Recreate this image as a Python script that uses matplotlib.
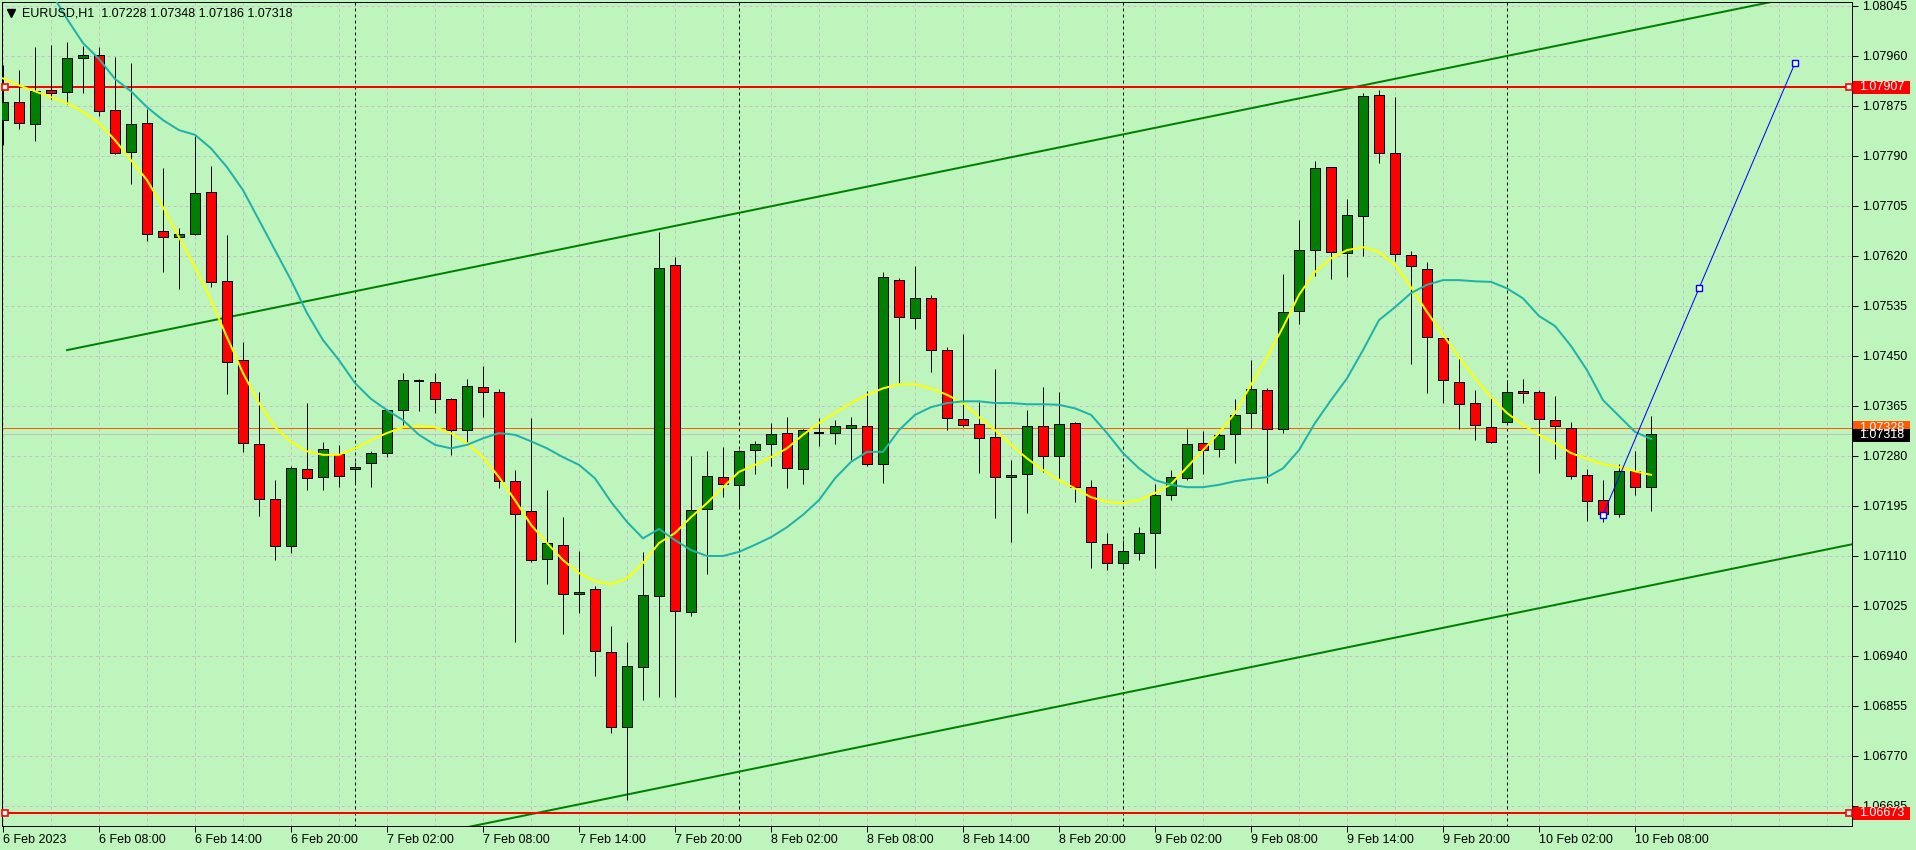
import matplotlib
matplotlib.use("Agg")
import matplotlib.pyplot as plt
from matplotlib.patches import Rectangle
from matplotlib.transforms import blended_transform_factory

# EURUSD H1 candles, bar 0 = 6 Feb 02:00
opens = [1.07851, 1.07882, 1.07844, 1.07902, 1.07899, 1.07956, 1.07962, 1.07868, 1.07797, 1.07846,
         1.07662, 1.07652, 1.07657, 1.07729, 1.07577, 1.07443, 1.07300, 1.07207, 1.07127, 1.07258,
         1.07244, 1.07283, 1.07258, 1.07268, 1.07285, 1.07358, 1.07407, 1.07406, 1.07377, 1.07324,
         1.07397, 1.07389, 1.07237, 1.07186, 1.07105, 1.07129, 1.07045, 1.07054, 1.06947, 1.06819,
         1.06921, 1.07042, 1.07605, 1.07015, 1.07190, 1.07244, 1.07231, 1.07290, 1.07300, 1.07319,
         1.07258, 1.07319, 1.07319, 1.07327, 1.07331, 1.07266, 1.07579, 1.07514, 1.07548, 1.07460,
         1.07343, 1.07334, 1.07312, 1.07244, 1.07249, 1.07331, 1.07280, 1.07336, 1.07227, 1.07130,
         1.07098, 1.07115, 1.07149, 1.07214, 1.07242, 1.07302, 1.07292, 1.07317, 1.07353, 1.07392,
         1.07326, 1.07526, 1.07630, 1.07771, 1.07625, 1.07688, 1.07894, 1.07795, 1.07622, 1.07598,
         1.07480, 1.07406, 1.07370, 1.07329, 1.07338, 1.07390, 1.07389, 1.07341, 1.07327, 1.07248,
         1.07205, 1.07181, 1.07254, 1.07228]
highs = [1.07945, 1.07936, 1.07975, 1.07979, 1.07984, 1.07977, 1.07975, 1.07958, 1.07948, 1.07870,
         1.07769, 1.07667, 1.07824, 1.07773, 1.07656, 1.07474, 1.07389, 1.07239, 1.07263, 1.07370,
         1.07304, 1.07298, 1.07270, 1.07288, 1.07360, 1.07421, 1.07411, 1.07421, 1.07378, 1.07411,
         1.07433, 1.07394, 1.07256, 1.07344, 1.07222, 1.07176, 1.07118, 1.07059, 1.06991, 1.06964,
         1.07117, 1.07661, 1.07618, 1.07280, 1.07288, 1.07295, 1.07290, 1.07305, 1.07336, 1.07346,
         1.07326, 1.07344, 1.07341, 1.07346, 1.07390, 1.07593, 1.07582, 1.07603, 1.07554, 1.07465,
         1.07487, 1.07372, 1.07428, 1.07273, 1.07358, 1.07397, 1.07389, 1.07338, 1.07239, 1.07149,
         1.07137, 1.07159, 1.07232, 1.07256, 1.07326, 1.07322, 1.07321, 1.07377, 1.07443, 1.07395,
         1.07589, 1.07681, 1.07781, 1.07772, 1.07717, 1.07897, 1.07902, 1.07890, 1.07628, 1.07610,
         1.07481, 1.07450, 1.07392, 1.07380, 1.07409, 1.07411, 1.07392, 1.07382, 1.07338, 1.07258,
         1.07239, 1.07266, 1.07288, 1.07348]
lows = [1.07809, 1.07836, 1.07815, 1.07887, 1.07878, 1.07897, 1.07858, 1.07793, 1.07742, 1.07645,
        1.07593, 1.07564, 1.07655, 1.07567, 1.07385, 1.07287, 1.07178, 1.07103, 1.07115, 1.07222,
        1.07222, 1.07227, 1.07236, 1.07227, 1.07278, 1.07333, 1.07356, 1.07353, 1.07282, 1.07302,
        1.07346, 1.07225, 1.06964, 1.07100, 1.07062, 1.06977, 1.07013, 1.06906, 1.06809, 1.06695,
        1.06865, 1.06870, 1.06870, 1.07008, 1.07079, 1.07210, 1.07191, 1.07249, 1.07263, 1.07225,
        1.07232, 1.07297, 1.07300, 1.07273, 1.07263, 1.07234, 1.07404, 1.07496, 1.07423, 1.07324,
        1.07329, 1.07251, 1.07174, 1.07134, 1.07183, 1.07253, 1.07242, 1.07202, 1.07089, 1.07086,
        1.07093, 1.07103, 1.07089, 1.07205, 1.07239, 1.07249, 1.07278, 1.07268, 1.07327, 1.07234,
        1.07319, 1.07504, 1.07586, 1.07581, 1.07584, 1.07620, 1.07778, 1.07611, 1.07436, 1.07387,
        1.07370, 1.07326, 1.07307, 1.07302, 1.07334, 1.07370, 1.07251, 1.07275, 1.07241, 1.07169,
        1.07168, 1.07176, 1.07214, 1.07186]
closes = [1.07882, 1.07846, 1.07900, 1.07897, 1.07956, 1.07962, 1.07866, 1.07795, 1.07844, 1.07657,
          1.07652, 1.07657, 1.07727, 1.07576, 1.07440, 1.07302, 1.07207, 1.07127, 1.07259, 1.07242,
          1.07292, 1.07246, 1.07261, 1.07285, 1.07358, 1.07409, 1.07407, 1.07377, 1.07324, 1.07399,
          1.07389, 1.07237, 1.07181, 1.07103, 1.07132, 1.07045, 1.07049, 1.06948, 1.06819, 1.06923,
          1.07044, 1.07599, 1.07016, 1.07188, 1.07246, 1.07232, 1.07288, 1.07300, 1.07317, 1.07259,
          1.07324, 1.07319, 1.07331, 1.07333, 1.07266, 1.07584, 1.07516, 1.07548, 1.07460, 1.07344,
          1.07333, 1.07310, 1.07244, 1.07248, 1.07331, 1.07280, 1.07334, 1.07227, 1.07134, 1.07098,
          1.07118, 1.07149, 1.07214, 1.07244, 1.07300, 1.07290, 1.07316, 1.07350, 1.07394, 1.07326,
          1.07525, 1.07630, 1.07769, 1.07627, 1.07690, 1.07892, 1.07795, 1.07623, 1.07603, 1.07482,
          1.07409, 1.07368, 1.07333, 1.07304, 1.07389, 1.07387, 1.07343, 1.07331, 1.07246, 1.07203,
          1.07181, 1.07254, 1.07228, 1.07318]

# fast (yellow) and slow (teal) moving averages
fast_ma = [1.07922, 1.07910, 1.07900, 1.07890, 1.07880, 1.07865, 1.07846, 1.07817, 1.07783, 1.07749,
           1.07703, 1.07652, 1.07601, 1.07545, 1.07482, 1.07421, 1.07370, 1.07329, 1.07304, 1.07288,
           1.07282, 1.07282, 1.07293, 1.07307, 1.07319, 1.07329, 1.07331, 1.07329, 1.07319, 1.07302,
           1.07278, 1.07244, 1.07205, 1.07163, 1.07132, 1.07103, 1.07081, 1.07067, 1.07062, 1.07072,
           1.07098, 1.07132, 1.07149, 1.07176, 1.07200, 1.07227, 1.07253, 1.07265, 1.07278, 1.07293,
           1.07316, 1.07336, 1.07353, 1.07370, 1.07384, 1.07395, 1.07402, 1.07402, 1.07395, 1.07384,
           1.07370, 1.07346, 1.07324, 1.07299, 1.07276, 1.07256, 1.07239, 1.07225, 1.07210, 1.07202,
           1.07200, 1.07205, 1.07217, 1.07232, 1.07261, 1.07290, 1.07319, 1.07353, 1.07401, 1.07448,
           1.07499, 1.07554, 1.07593, 1.07616, 1.07630, 1.07635, 1.07627, 1.07605, 1.07567, 1.07525,
           1.07486, 1.07448, 1.07412, 1.07380, 1.07353, 1.07333, 1.07316, 1.07302, 1.07285, 1.07275,
           1.07266, 1.07261, 1.07254, 1.07248]
slow_ma_start = 2
slow_ma = [1.08110, 1.08068, 1.08023, 1.07982, 1.07955, 1.07921, 1.07900, 1.07873,
           1.07851, 1.07834, 1.07826, 1.07803, 1.07771, 1.07732, 1.07681, 1.07630, 1.07579, 1.07523,
           1.07477, 1.07443, 1.07404, 1.07377, 1.07358, 1.07341, 1.07316, 1.07299, 1.07293, 1.07299,
           1.07310, 1.07319, 1.07316, 1.07305, 1.07293, 1.07278, 1.07265, 1.07242, 1.07202, 1.07168,
           1.07140, 1.07156, 1.07137, 1.07120, 1.07110, 1.07110, 1.07117, 1.07129, 1.07142, 1.07159,
           1.07180, 1.07205, 1.07242, 1.07270, 1.07287, 1.07287, 1.07324, 1.07350, 1.07363, 1.07370,
           1.07373, 1.07373, 1.07370, 1.07370, 1.07368, 1.07368, 1.07367, 1.07361, 1.07350, 1.07319,
           1.07285, 1.07259, 1.07239, 1.07231, 1.07227, 1.07227, 1.07231, 1.07237, 1.07241, 1.07244,
           1.07259, 1.07290, 1.07336, 1.07375, 1.07412, 1.07460, 1.07511, 1.07533, 1.07557, 1.07571,
           1.07579, 1.07579, 1.07577, 1.07576, 1.07565, 1.07548, 1.07518, 1.07501, 1.07467, 1.07426,
           1.07375, 1.07348, 1.07321, 1.07309]

# drawn objects
resistance = 1.07907
support = 1.06673
ask_price = 1.07328
bid_price = 1.07318
channel_start = (4, 1.07460)
channel_end = (110, 1.08049)
channel_width = 0.00950
projection_bars = [100, 106, 112]
projection_prices = [1.07180, 1.07565, 1.07948]
day_breaks = [22, 46, 70, 94]

price_ticks = [1.08045, 1.07960, 1.07875, 1.07790, 1.07705, 1.07620, 1.07535, 1.07450, 1.07365,
               1.07280, 1.07195, 1.07110, 1.07025, 1.06940, 1.06855, 1.06770, 1.06685]
time_tick_bars = list(range(0, 103, 6))
time_labels = ["6 Feb 2023", "6 Feb 08:00", "6 Feb 14:00", "6 Feb 20:00", "7 Feb 02:00",
               "7 Feb 08:00", "7 Feb 14:00", "7 Feb 20:00", "8 Feb 02:00", "8 Feb 08:00",
               "8 Feb 14:00", "8 Feb 20:00", "9 Feb 02:00", "9 Feb 08:00", "9 Feb 14:00",
               "9 Feb 20:00", "10 Feb 02:00", "10 Feb 08:00"]

BG = "#bef5bc"
GRID = "#c9bdc9"
PX = 0.72  # one pixel in points

plt.rcParams["font.family"] = ["Liberation Sans", "DejaVu Sans"]

W, H = 1916, 850
fig = plt.figure(figsize=(W / 100, H / 100), dpi=100)
fig.patch.set_facecolor(BG)
ax = fig.add_axes([2 / W, 24 / H, 1850 / W, 824 / H])
ax.set_facecolor(BG)

# pixel mapping: x = 3 + 16*bar, price = 1.080552 - 0.000017*y
ax.set_xlim(-1 / 16, 1849 / 16)
ax.set_ylim(1.080552 - 0.000017 * 826, 1.080552 - 0.000017 * 2)

for s in ax.spines.values():
    s.set_color("black")
    s.set_linewidth(PX)

# grid
ax.hlines(price_ticks, -1, 120, colors=GRID, linestyles=(0, (3, 3)), linewidth=PX, zorder=1)
ax.vlines(list(range(0, 116, 3)), 1.06, 1.09, colors=GRID, linestyles=(0, (3, 3)), linewidth=PX, zorder=1)
ax.vlines(day_breaks, 1.06, 1.09, colors="black", linestyles=(0, (3, 3)), linewidth=PX, zorder=1.5)

# channel
slope = (channel_end[1] - channel_start[1]) / (channel_end[0] - channel_start[0])
x_far = 120
up_far = channel_start[1] + slope * (x_far - channel_start[0])
ax.plot([channel_start[0], x_far], [channel_start[1], up_far], color="#008000", lw=2 * PX, zorder=2)
ax.plot([channel_start[0], x_far], [channel_start[1] - channel_width, up_far - channel_width],
        color="#008000", lw=2 * PX, zorder=2)

# horizontal levels
ax.axhline(resistance, color="#ff0000", lw=2 * PX, zorder=2)
ax.axhline(support, color="#ff0000", lw=2 * PX, zorder=2)
ax.axhline(bid_price, color="#c0c0c0", lw=PX, zorder=2)
ax.axhline(ask_price, color="#ff5a00", lw=PX, zorder=2)
for lvl in [resistance, support]:
    ax.plot([2 / 16, 1846 / 16], [lvl, lvl], ls="none", marker="s", ms=4, mfc="white",
            mec="#ff0000", mew=1.2, zorder=6, clip_on=False)

# candles
n = len(opens)
bars = list(range(n))
ax.vlines(bars, lows, highs, colors="black", linewidth=PX, zorder=3)
for i in bars:
    o, c = opens[i], closes[i]
    if abs(c - o) < 0.000005:
        ax.hlines(o, i - 0.3125, i + 0.3125, colors="black", linewidth=1.4, zorder=4)
        continue
    col = "#008000" if c > o else "#ff0000"
    ax.bar(i, abs(c - o), bottom=min(o, c), width=0.625, color=col, edgecolor="black",
           linewidth=PX, zorder=4)

# moving averages
ax.plot(bars, fast_ma, color="#ffff00", lw=2 * PX, zorder=5)
ax.plot(list(range(slow_ma_start, slow_ma_start + len(slow_ma))), slow_ma, color="#20b2aa",
        lw=2 * PX, zorder=5)

# projection line
ax.plot(projection_bars, projection_prices, color="#0000ff", lw=PX, zorder=6, clip_on=False)
ax.plot(projection_bars, projection_prices, ls="none", marker="s", ms=4, mfc="white",
        mec="#0000ff", mew=1, zorder=7, clip_on=False)

# axes ticks
ax.yaxis.tick_right()
ax.set_yticks(price_ticks)
ax.set_yticklabels(["%.5f" % p for p in price_ticks])
ax.tick_params(axis="y", direction="out", length=4, width=PX, color="black", labelsize=9, pad=3)
ax.set_xticks(time_tick_bars)
ax.set_xticklabels(time_labels)
ax.tick_params(axis="x", direction="out", length=4, width=PX, color="black", labelsize=9, pad=2)
for lab in ax.get_xticklabels():
    lab.set_ha("left")

# price labels on the scale
tr = blended_transform_factory(ax.transAxes, ax.transData)
box_h = 0.000017 * 13


def price_box(price, face, text, dy=0.0):
    ax.add_patch(Rectangle((1 + 1 / 1850, price - box_h / 2 + dy), 57 / 1850, box_h,
                           transform=tr, facecolor=face, edgecolor="none", clip_on=False, zorder=10))
    ax.text(1 + 7 / 1850, price + dy, text, transform=tr, color="white", fontsize=9,
            va="center", ha="left", clip_on=False, zorder=11)


price_box(ask_price, "#ff5a00", "%.5f" % ask_price)
price_box(bid_price, "black", "%.5f" % bid_price, dy=-0.000017 * 1.5)
price_box(resistance, "#ff0000", "%.5f" % resistance)
price_box(support, "#ff0000", "%.5f" % support)

# header
ax.plot([9 / 1850], [1 - 11 / 824], marker="v", ms=6, color="black", transform=ax.transAxes,
        clip_on=False, zorder=12)
fig.text(22 / W, 1 - 13 / H, "EURUSD,H1  %.5f %.5f %.5f %.5f" % (opens[-1], highs[-1], lows[-1], closes[-1]),
         fontsize=9, va="center", ha="left", color="black")

fig.savefig("out.png", dpi=100, facecolor=BG)
